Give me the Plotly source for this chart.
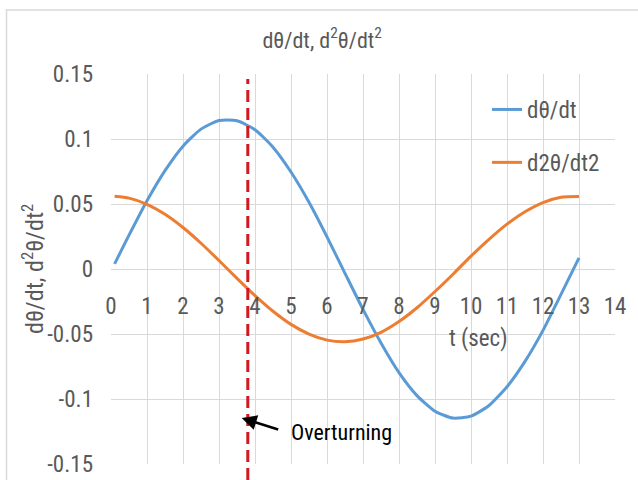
import plotly.graph_objects as go

# ---- data ----
t = [0.1, 0.5, 1.0, 1.5, 2.0, 2.5, 3.0, 3.5, 4.0, 4.5, 5.0, 5.5, 6.0, 6.5,
     7.0, 7.5, 8.0, 8.5, 9.0, 9.5, 10.0, 10.5, 11.0, 11.5, 12.0, 12.5, 13.0]
dtheta = [0.004, 0.026, 0.0525, 0.0757, 0.0945, 0.1076, 0.1142, 0.1140, 0.1071,
          0.0937, 0.0746, 0.0513, 0.0247, -0.0033, -0.0311, -0.0569, -0.0797,
          -0.0974, -0.1094, -0.1147, -0.1132, -0.1050, -0.0906, -0.0711,
          -0.0472, -0.0195, 0.0085]
d2theta = [0.0560, 0.0545, 0.0498, 0.0421, 0.0319, 0.0198, 0.0065, -0.0072,
           -0.0205, -0.0325, -0.0426, -0.0501, -0.0547, -0.0560, -0.0539,
           -0.0487, -0.0404, -0.0298, -0.0173, -0.0040, 0.0099, 0.0228, 0.0345,
           0.0440, 0.0511, 0.0552, 0.0558]
series_names = ["dθ/dt", "d2θ/dt2"]
x_ticks = list(range(0, 15))
y_ticks = [0.15, 0.1, 0.05, 0, -0.05, -0.1, -0.15]
y_tick_labels = ["0.15", "0.1", "0.05", "0", "-0.05", "-0.1", "-0.15"]
overturn_t = 3.8
arrow_target = (3.63, -0.1146)
y_range = [-0.15, 0.15]
x_range = [0, 14]

FONT = "Roboto Condensed, Liberation Sans, sans-serif"
GREY = "#595959"
GRID = "#D9D9D9"

fig = go.Figure()
fig.add_trace(go.Scatter(x=t, y=dtheta, mode="lines", name=series_names[0],
                         legendgroup="a",
                         line=dict(color="#5B9BD5", width=3, shape="spline", smoothing=0.6)))
fig.add_trace(go.Scatter(x=t, y=d2theta, mode="lines", name=series_names[1],
                         legendgroup="b",
                         line=dict(color="#ED7D31", width=3, shape="spline", smoothing=0.6)))

W, H = 638, 480
ml, mr, mt, mb = 111, 23, 74, 16
pw, ph = W - ml - mr, H - mt - mb

def px_to_paper_x(px):
    return (px - ml) / pw

def px_to_paper_y(py):
    return 1 - (py - mt) / ph

zero_pos = (0 - y_range[0]) / (y_range[1] - y_range[0])

fig.update_layout(
    width=W, height=H,
    margin=dict(l=ml, r=mr, t=mt, b=mb, autoexpand=False),
    paper_bgcolor="white", plot_bgcolor="white",
    font=dict(family=FONT, color=GREY, size=23),
    title=dict(text="dθ/dt, d<sup>2</sup>θ/dt<sup>2</sup>", x=0.505, xanchor="center",
               y=1 - 40 / H, yanchor="middle", yref="container",
               font=dict(family=FONT, size=22, color=GREY)),
    xaxis=dict(range=x_range, tickvals=x_ticks, showgrid=True, gridcolor=GRID,
               gridwidth=1, zeroline=False, showline=False, ticks="",
               anchor="free", position=zero_pos, ticklabelstandoff=21,
               automargin=False, tickfont=dict(size=23, color=GREY)),
    yaxis=dict(range=y_range, tickvals=y_ticks, ticktext=y_tick_labels,
               showgrid=True, gridcolor=GRID, gridwidth=1, zeroline=True,
               zerolinecolor=GRID, zerolinewidth=1, showline=False, ticks="",
               ticklabelstandoff=17, automargin=False,
               tickfont=dict(size=23, color=GREY)),
    legend=dict(x=px_to_paper_x(487), y=px_to_paper_y(88), xanchor="left", yanchor="top",
                bgcolor="rgba(0,0,0,0)", tracegroupgap=20, traceorder="grouped",
                font=dict(size=23, color=GREY)),
    showlegend=True,
)

# chart frame
fig.add_shape(type="rect", xref="paper", yref="paper",
              x0=px_to_paper_x(6.5), x1=px_to_paper_x(700),
              y0=px_to_paper_y(540), y1=px_to_paper_y(10),
              line=dict(color="#D9D9D9", width=1.5), fillcolor="rgba(0,0,0,0)", layer="below")

# overturning dashed line
fig.add_shape(type="line", xref="x", yref="paper", x0=overturn_t, x1=overturn_t,
              y0=px_to_paper_y(480), y1=px_to_paper_y(79),
              line=dict(color="#D0181E", width=3, dash="12px,6px"))

# y-axis title
fig.add_annotation(text="dθ/dt, d<sup>2</sup>θ/dt<sup>2</sup>", xref="paper", yref="paper",
                   x=px_to_paper_x(33), y=0.5, textangle=-90, showarrow=False,
                   xanchor="center", yanchor="middle", font=dict(size=24, color=GREY))
# x-axis title
fig.add_annotation(text="t (sec)", xref="x", yref="paper", x=10.2,
                   y=px_to_paper_y(338), showarrow=False, xanchor="center",
                   yanchor="middle", font=dict(size=23, color=GREY))
# arrow and label
fig.add_annotation(text="", x=arrow_target[0], y=arrow_target[1], xref="x", yref="y",
                   ax=38, ay=12, axref="pixel", ayref="pixel", showarrow=True,
                   arrowhead=2, arrowsize=1.2, arrowwidth=2.5, arrowcolor="black")
fig.add_annotation(text="Overturning", xref="paper", yref="paper",
                   x=px_to_paper_x(289), y=px_to_paper_y(432), showarrow=False,
                   xanchor="left", yanchor="middle", font=dict(size=22, color="black"))

fig.write_html("out.html")
